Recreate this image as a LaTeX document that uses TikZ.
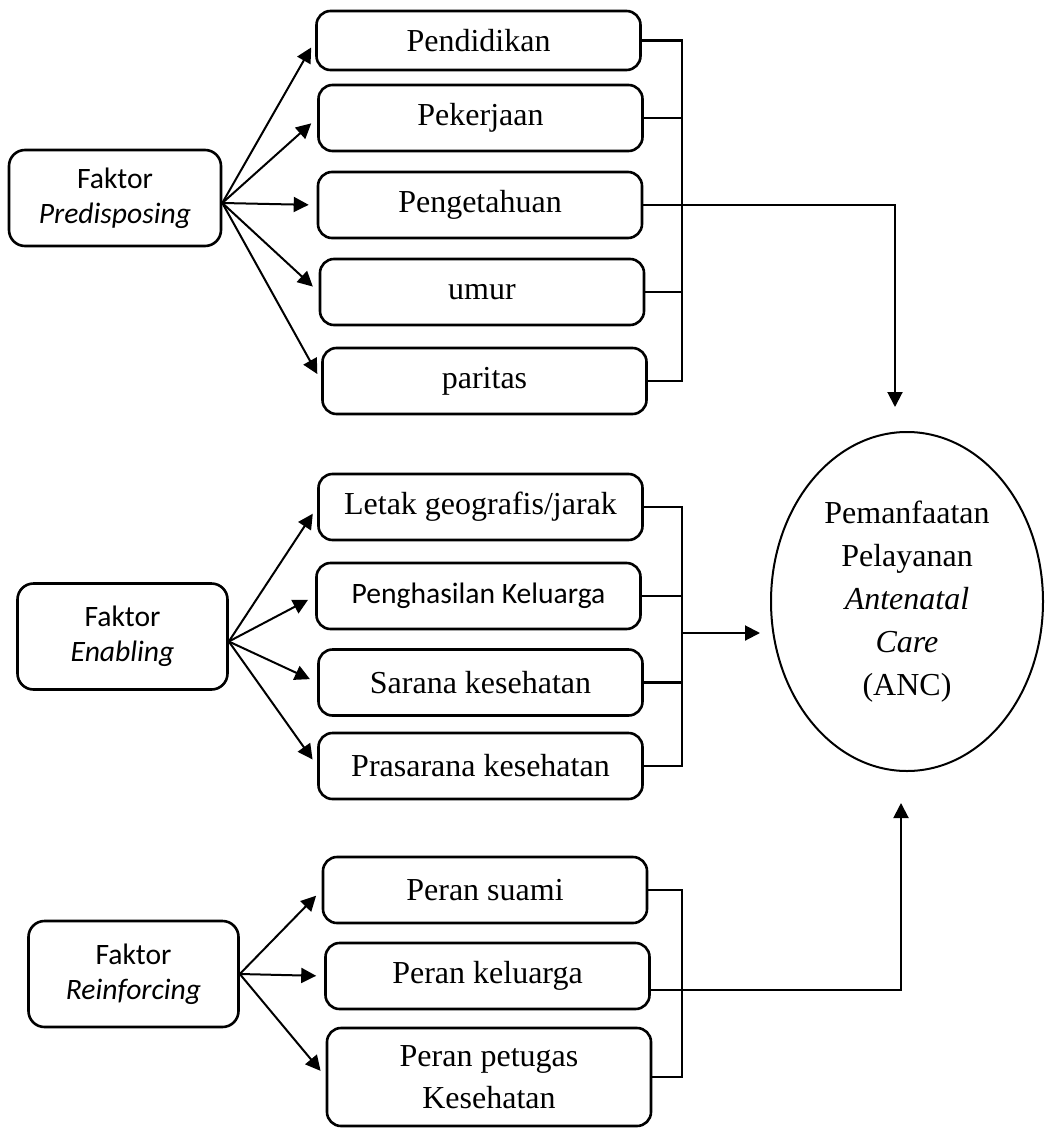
\documentclass[tikz,border=0pt]{standalone}
\usepackage{fontspec}
\usepackage{tikz}
\usetikzlibrary{arrows.meta,shapes.geometric}
\setmainfont{Liberation Serif}
\newfontfamily\calibri{Carlito}

\begin{document}
\begin{tikzpicture}[x=0.5pt, y=-0.5pt,
        faktor/.style={draw, line width=1.3pt, rounded corners=8pt, align=center,
              minimum width=105pt, minimum height=53pt, inner sep=2pt,
              font=\calibri\fontsize{14.8}{17.5}\selectfont},
        item/.style={draw, line width=1.3pt, rounded corners=7pt, align=center,
              minimum width=162pt, minimum height=33pt, inner sep=2pt,
              font=\fontsize{16}{21}\selectfont},
        arr/.style={-{Triangle[length=7.5pt, width=7.5pt]}, line width=1pt, shorten >=4pt},
        brk/.style={line width=1.2pt}]
    \useasboundingbox (0,0) rectangle (1047,1129);

    \node[faktor, minimum width=106pt, minimum height=48pt] (pre) at (115,198) {Faktor\\\textit{Predisposing}};
    \node[item, minimum height=29.5pt] (pend) at (478.5,40.5) {Pendidikan};
    \node[item] (pek) at (480.5,118) {Pekerjaan};
    \node[item] (peng) at (480,205) {Pengetahuan};
    \node[item] (umur) at (482,292) {umur};
    \node[item] (par) at (484.5,381) {paritas};

    \node[faktor] (ena) at (122.5,636.5) {Faktor\\\textit{Enabling}};
    \node[item] (let) at (480.5,507) {Letak geografis/jarak};
    \node[item, font=\calibri\fontsize{14.8}{17.5}\selectfont] (hasil) at (478.5,596) {Penghasilan Keluarga};
    \node[item] (sar) at (480.5,682.5) {Sarana kesehatan};
    \node[item] (pras) at (480.5,766) {Prasarana kesehatan};

    \node[faktor] (rei) at (133.5,974) {Faktor\\\textit{Reinforcing}};
    \node[item] (sua) at (485,890) {Peran suami};
    \node[item] (kel) at (487.5,976) {Peran keluarga};
    \node[item, minimum height=49pt] (pet) at (489,1077) {Peran petugas\\Kesehatan};

    \node[draw, ellipse, line width=1pt, minimum width=136pt, minimum height=169.5pt, inner sep=0pt,
          align=center, font=\fontsize{16}{21.5}\selectfont] (anc) at (907,601.5)
          {Pemanfaatan\\Pelayanan\\\textit{Antenatal}\\\textit{Care}\\(ANC)};

    \foreach \t in {pend,pek,peng,umur,par} \draw[arr] ([yshift=-2.5pt]pre.east) -- (\t.west);
    \foreach \t in {let,hasil,sar,pras} \draw[arr] ([yshift=-2.5pt]ena.east) -- (\t.west);
    \foreach \t in {sua,kel,pet} \draw[arr] (rei.east) -- (\t.west);

    \coordinate (b1) at (682,0);
    \draw[brk] (pend.east) -- (pend.east -| b1) -- (par.east -| b1) -- (par.east);
    \foreach \t in {pek,umur} \draw[brk] (\t.east) -- (\t.east -| b1);
    \draw[arr, shorten >=12pt] (peng.east) -| ([xshift=-6pt]anc.north);

    \draw[brk] (let.east) -- (let.east -| b1) -- (pras.east -| b1) -- (pras.east);
    \foreach \t in {hasil,sar} \draw[brk] (\t.east) -- (\t.east -| b1);
    \coordinate (ancin) at ([yshift=-15.75pt]anc.west);
    \draw[arr, shorten >=5pt] (ancin -| b1) -- (ancin);

    \draw[brk] (sua.east) -- (sua.east -| b1) -- (pet.east -| b1) -- (pet.east);
    \draw[arr, shorten >=15.5pt] ([yshift=-7pt]kel.east) -| ([xshift=-3pt]anc.south);
\end{tikzpicture}
\end{document}
